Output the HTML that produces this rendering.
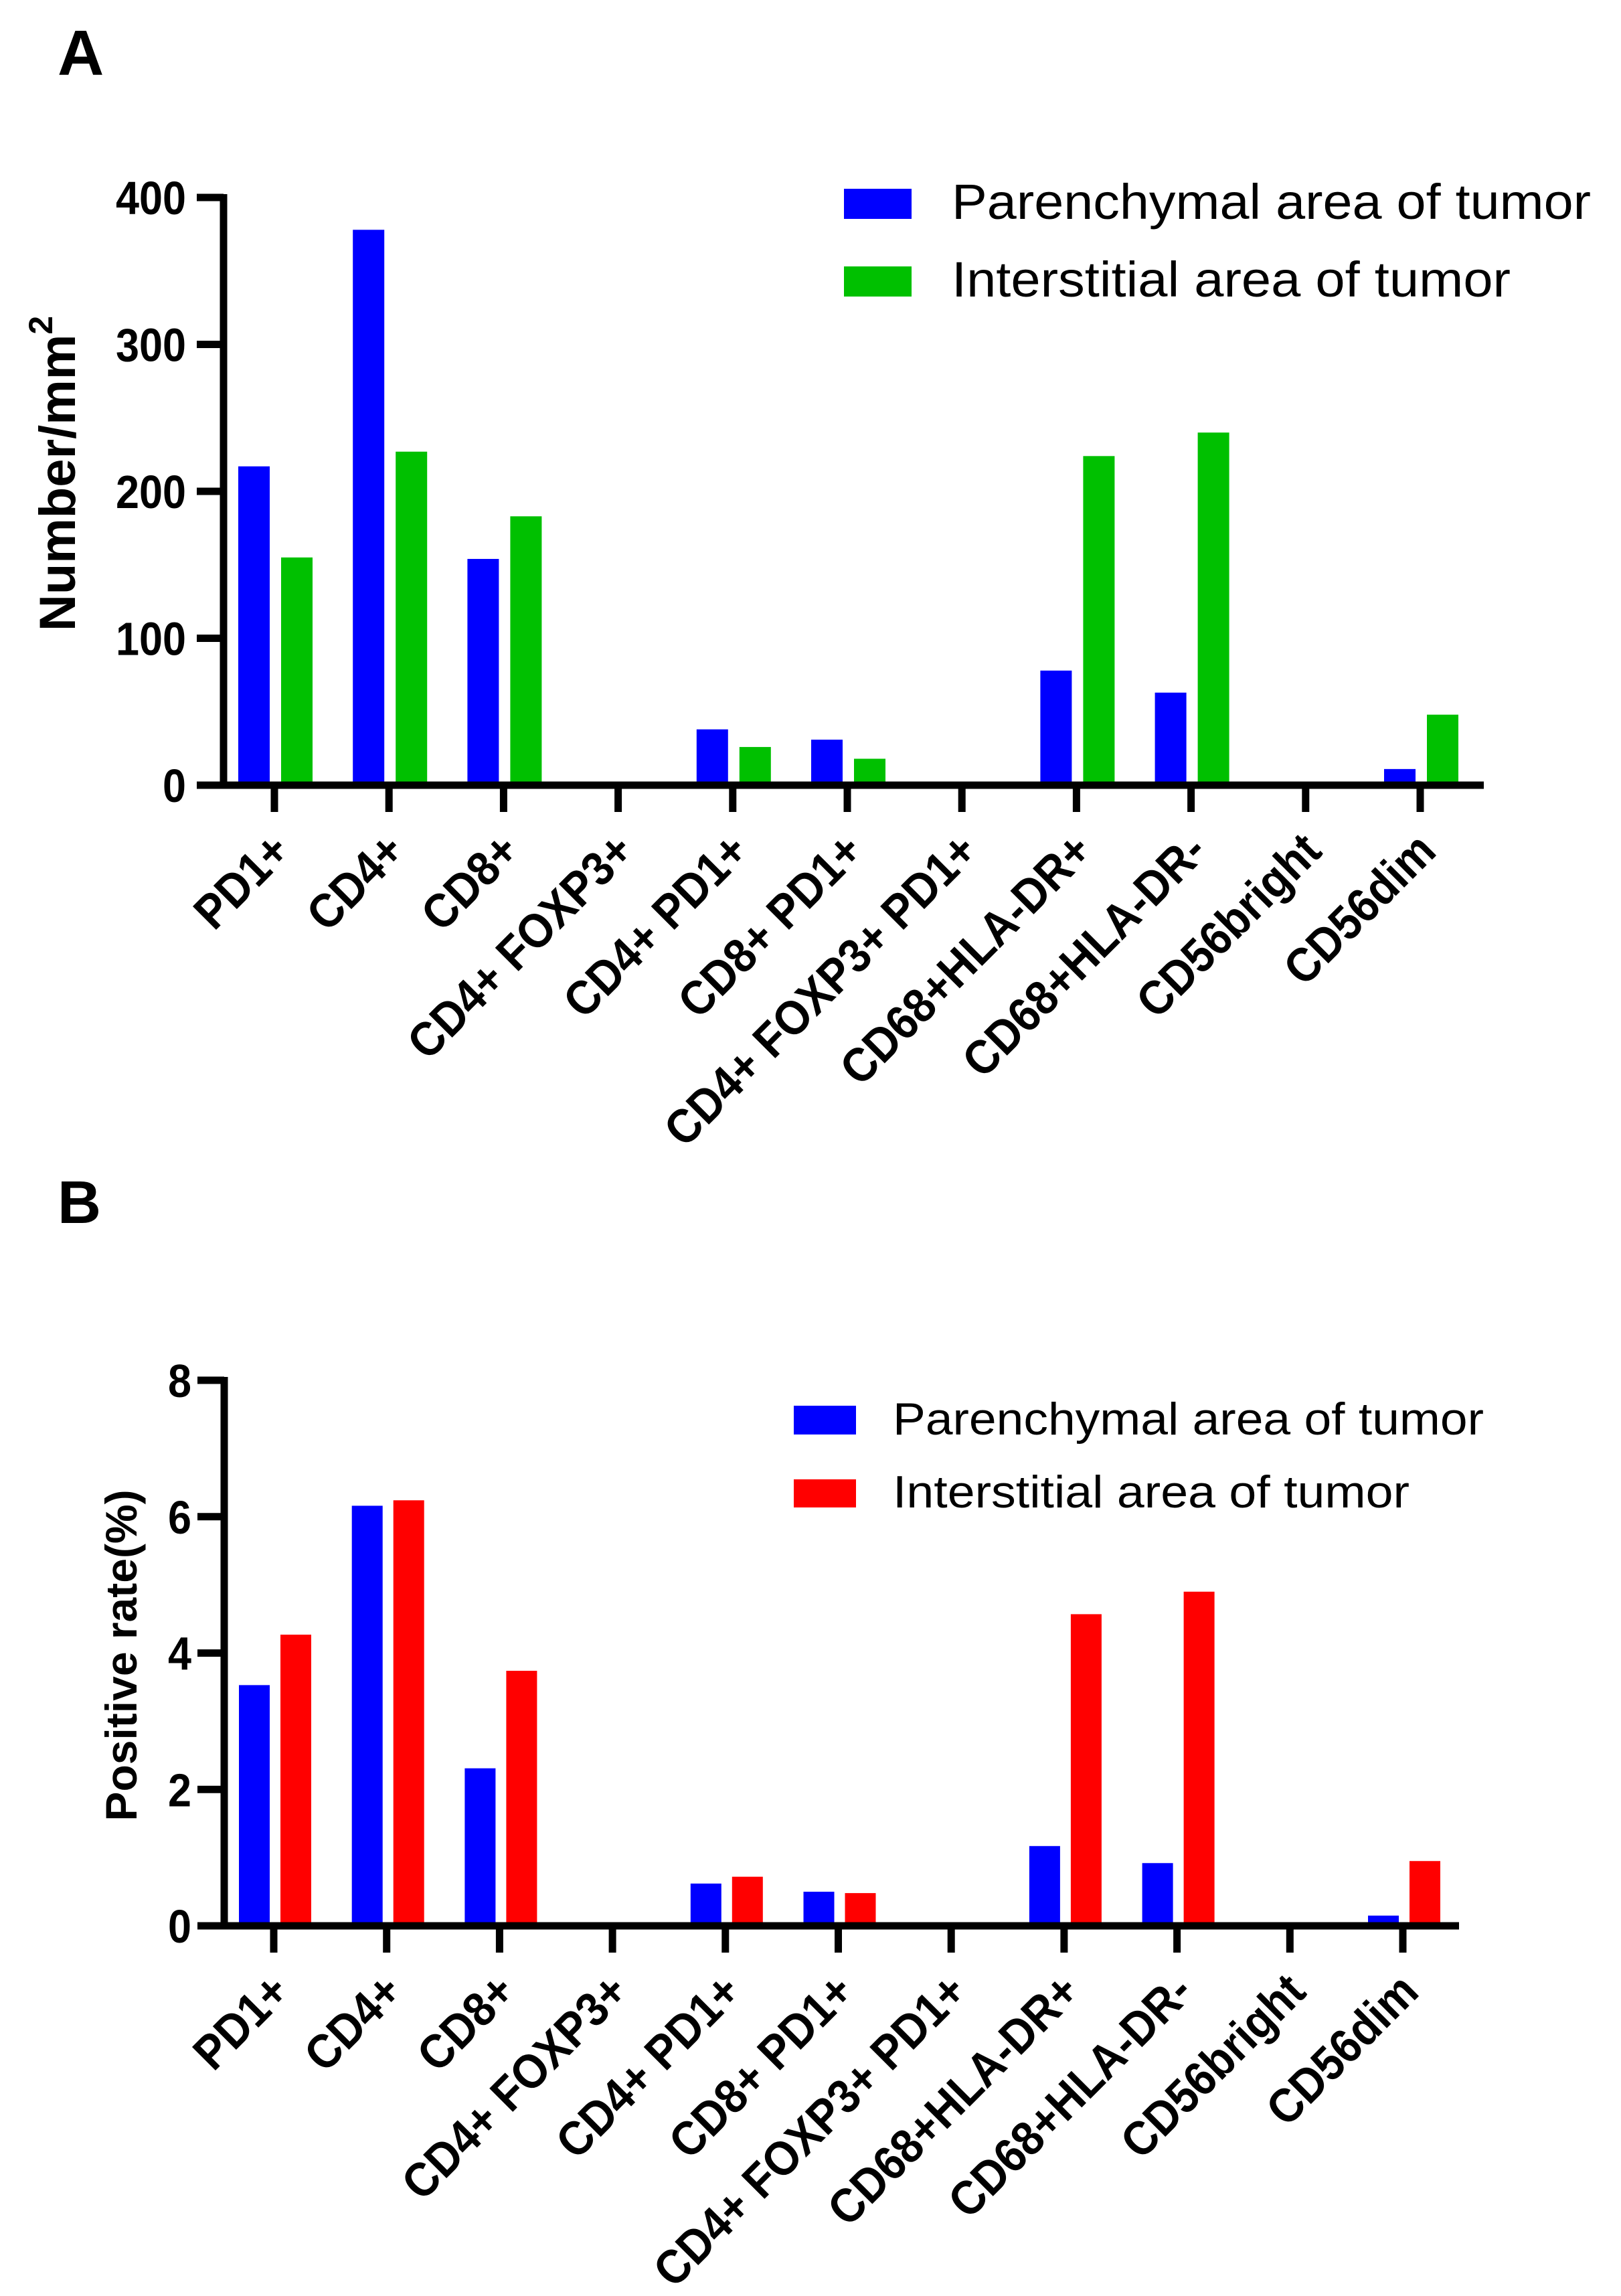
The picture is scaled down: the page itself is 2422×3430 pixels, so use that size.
<!DOCTYPE html>
<html><head><meta charset="utf-8"><style>
html,body{margin:0;padding:0;background:#fff;}
svg{display:block;}
text{font-family:"Liberation Sans",Arial,sans-serif;fill:#000;}
</style></head>
<body>
<svg id="fig" width="2422" height="3430" viewBox="0 0 2422 3430" xmlns="http://www.w3.org/2000/svg">
<text x="86" y="112" font-size="96" font-weight="bold">A</text>
<text x="86" y="1827" font-size="90" font-weight="bold">B</text>
<g id="chartA"></g>
<g id="chartB"></g>
</svg>
<script>
const categories = ["PD1+","CD4+","CD8+","CD4+ FOXP3+","CD4+ PD1+","CD8+ PD1+","CD4+ FOXP3+ PD1+","CD68+HLA-DR+","CD68+HLA-DR-","CD56bright","CD56dim"];
const aParenchymal = [217,378,154,0,38,31,0,78,63,0,11];
const aInterstitial = [155,227,183,0,26,18,0,224,240,0,48];
const aTicks = [0,100,200,300,400];
const aTickLabels = ["0","100","200","300","400"];
const bParenchymal = [3.53,6.16,2.31,0,0.62,0.5,0,1.17,0.92,0,0.15];
const bInterstitial = [4.27,6.24,3.74,0,0.72,0.48,0,4.57,4.9,0,0.95];
const bTicks = [0,2,4,6,8];
const bTickLabels = ["0","2","4","6","8"];

const NS="http://www.w3.org/2000/svg";
function mk(parent,tag,attrs){const e=document.createElementNS(NS,tag);for(const k in attrs)e.setAttribute(k,attrs[k]);parent.appendChild(e);return e;}

function drawChart(g,cfg){
  const yScale=v=>cfg.y0+(cfg.y1-cfg.y0)*(v-cfg.vmin)/(cfg.vmax-cfg.vmin);
  const xScale=i=>cfg.x0+i*cfg.step;
  cfg.s1.forEach((v,i)=>{
    const t=xScale(i),y=yScale(v);
    const r=mk(g,'rect',{x:t-cfg.bw-cfg.gapL,y:y,width:cfg.bw,height:Math.max(0,cfg.y0-y),fill:'#0000ff'});
    
    
  });
  cfg.s2.forEach((v,i)=>{
    const t=xScale(i),y=yScale(v);
    const r=mk(g,'rect',{x:t+cfg.gapR,y:y,width:cfg.bw,height:Math.max(0,cfg.y0-y),fill:cfg.c2});
    
    
  });
  const ya=mk(g,'line',{x1:cfg.ax,y1:yScale(cfg.vmax)-5,x2:cfg.ax,y2:cfg.y0+5,stroke:'#000','stroke-width':11});
  
  
  const xa=mk(g,'line',{x1:cfg.ax-5,y1:cfg.y0,x2:cfg.xend,y2:cfg.y0,stroke:'#000','stroke-width':11});
  
  
  cfg.ticks.forEach((v,i)=>{
    const y=yScale(v);
    const l=mk(g,'line',{x1:cfg.ax-40,y1:y,x2:cfg.ax,y2:y,stroke:'#000','stroke-width':11});
    
    
    const lab=cfg.tickLabels[i];
    const t=mk(g,'text',{x:cfg.tlx,y:y+25,'font-size':cfg.tfs,'font-weight':'bold','text-anchor':'end',textLength:lab.length*cfg.tfs*0.5,lengthAdjust:'spacingAndGlyphs'});
    t.textContent=lab;
    
    
  });
  categories.forEach((c,i)=>{
    const x=xScale(i);
    const l=mk(g,'line',{x1:x,y1:cfg.y0,x2:x,y2:cfg.y0+40,stroke:'#000','stroke-width':11});
    
    
    const px=x+27,py=cfg.y0+102;
    const t=mk(g,'text',{x:0,y:0,'font-size':72,'font-weight':'bold','text-anchor':'end',transform:`translate(${px} ${py}) rotate(-45) scale(0.91 1)`});
    t.textContent=c;
    
    
  });
}

drawChart(document.getElementById('chartA'),{x0:410,step:171.2,y0:1173,y1:295,vmin:0,vmax:400,bw:47,gapL:7,gapR:10,ax:334,xend:2217,s1:aParenchymal,s2:aInterstitial,c2:'#00c000',ticks:aTicks,tickLabels:aTickLabels,tlx:278,tfs:70});
drawChart(document.getElementById('chartB'),{x0:409,step:168.7,y0:2877,y1:2062,vmin:0,vmax:8,bw:46,gapL:6,gapR:10,ax:335,xend:2180,s1:bParenchymal,s2:bInterstitial,c2:'#ff0000',ticks:bTicks,tickLabels:bTickLabels,tlx:286,tfs:70});
</script>
<svg style="position:absolute;left:0;top:0" width="2422" height="3430" xmlns="http://www.w3.org/2000/svg">
<text transform="translate(112 943) rotate(-90)" font-size="76" font-weight="bold">Number/mm<tspan font-size="50" dy="-34">2</tspan></text>
<text transform="translate(204 2473) rotate(-90)" font-size="66" font-weight="bold" text-anchor="middle">Positive rate(%)</text>
<g>
<rect x="1261" y="282" width="101" height="45" fill="#0000ff"/>
<text x="1422" y="327" font-size="74" textLength="955" lengthAdjust="spacingAndGlyphs">Parenchymal area of tumor</text>
<rect x="1261" y="398" width="101" height="45" fill="#00c000"/>
<text x="1422" y="443" font-size="74" textLength="835" lengthAdjust="spacingAndGlyphs">Interstitial area of tumor</text>
</g>
<g>
<rect x="1186" y="2100" width="93" height="43" fill="#0000ff"/>
<text x="1334" y="2143" font-size="68" textLength="883" lengthAdjust="spacingAndGlyphs">Parenchymal area of tumor</text>
<rect x="1186" y="2210" width="93" height="42" fill="#ff0000"/>
<text x="1334" y="2252" font-size="68" textLength="772" lengthAdjust="spacingAndGlyphs">Interstitial area of tumor</text>
</g>
</svg>
</body></html>
